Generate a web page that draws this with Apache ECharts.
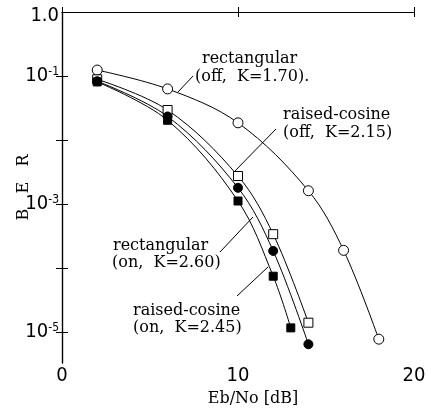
<!DOCTYPE html>
<html>
<head>
<meta charset="utf-8">
<script src="https://cdn.jsdelivr.net/npm/echarts@6/dist/echarts.min.js"></script>
<style>
    html, body { margin: 0; padding: 0; background: #fff; }
    #chart { width: 431px; height: 409px; }
</style>
</head>
<body>
<div id="chart"></div>
<script>
// Eb/No [dB] for each curve
var rectOffX = [2, 6, 10, 14, 16, 18];
var rcOffX = [2, 6, 10, 12, 14];
var rectOnX = [2, 6, 10, 12, 14];
var rcOnX = [2, 6, 10, 12, 13];

// BER
var rectOffBer = [0.124, 0.063, 0.0186, 0.00162, 1.9e-4, 7.8e-6];
var rcOffBer = [0.089, 0.0295, 0.00275, 3.4e-4, 1.41e-5];
var rectOnBer = [0.083, 0.0234, 0.0018, 1.86e-4, 6.5e-6];
var rcOnBer = [0.081, 0.0204, 0.00112, 7.5e-5, 1.17e-5];

// y axis ticks / labels (log10 of BER)
var yTicks = [-1, -2, -3, -4, -5];
var yLabels = [0, -1, -3, -5];
var xTicks = [0, 10, 20];

var serifFont = "'DejaVu Serif', 'Liberation Serif', serif";
var narrowFont = "'Liberation Sans Narrow', 'DejaVu Sans Condensed', 'Liberation Sans', sans-serif";
var noteFont = '16px ' + serifFont;

var toPairs = function (xs, bers) {
    var out = [];
    for (var i = 0; i < xs.length; i++) {
        out.push([xs[i], Math.log10(bers[i])]);
    }
    return out;
};

var makeSeries = function (name, xs, bers, symbol, size, filled) {
    return {
        name: name,
        type: 'line',
        data: toPairs(xs, bers),
        smooth: 0.35,
        symbol: symbol,
        symbolSize: size,
        showAllSymbol: true,
        lineStyle: {color: '#000', width: 1},
        itemStyle: {
            color: filled ? '#000' : '#fff',
            borderColor: '#000',
            borderWidth: 1
        },
        emphasis: {disabled: true},
        z: filled ? 3 : 2
    };
};

var chart = echarts.init(document.getElementById('chart'));

var axisLine = {show: true, lineStyle: {color: '#000', width: 1.2}};

var option = {
    animation: false,
    backgroundColor: '#fff',
    grid: {left: 62, right: 17, top: 12, bottom: 46, outerBoundsMode: 'none'},
    xAxis: [
        {
            type: 'value',
            min: 0,
            max: 20,
            interval: 10,
            position: 'bottom',
            axisLine: axisLine,
            axisTick: {show: true, inside: true, length: 5, customValues: xTicks, lineStyle: {color: '#000'}},
            splitLine: {show: false},
            axisLabel: {
                margin: 3,
                fontFamily: narrowFont,
                fontSize: 20,
                color: '#000'
            },
            name: 'Eb/No [dB]',
            nameLocation: 'middle',
            nameGap: 24,
            nameTextStyle: {fontFamily: serifFont, fontSize: 16, color: '#000', padding: [0, 0, 0, 30]}
        },
        {
            type: 'value',
            min: 0,
            max: 20,
            interval: 10,
            position: 'top',
            axisLine: axisLine,
            axisTick: {show: true, inside: true, length: 5, customValues: xTicks, lineStyle: {color: '#000'}},
            splitLine: {show: false},
            axisLabel: {show: false}
        }
    ],
    yAxis: [
        {
            type: 'value',
            min: -5.48,
            max: 0,
            position: 'left',
            axisLine: axisLine,
            axisTick: {show: true, inside: true, length: 6, customValues: yTicks, lineStyle: {color: '#000'}},
            splitLine: {show: false},
            axisLabel: {
                customValues: yLabels,
                margin: 3,
                color: '#000',
                fontFamily: narrowFont,
                formatter: function (v) {
                    if (v === 0) {
                        return '{t|1.0}';
                    }
                    return '{b|10}{s|' + v + '}';
                },
                rich: {
                    t: {fontFamily: narrowFont, fontSize: 20, color: '#000', lineHeight: 20, padding: [8, 0, 0, 0]},
                    b: {fontFamily: narrowFont, fontSize: 20, color: '#000', lineHeight: 20},
                    s: {fontFamily: narrowFont, fontSize: 12, color: '#000', verticalAlign: 'top', lineHeight: 12}
                }
            },
            name: 'B   E   R',
            nameLocation: 'middle',
            nameRotate: 90,
            nameGap: 30,
            nameMoveOverlap: false,
            nameTextStyle: {fontFamily: serifFont, fontSize: 16, color: '#000'}
        },
        {
            type: 'value',
            min: -5.48,
            max: 0,
            position: 'right',
            axisLine: axisLine,
            axisTick: {show: true, inside: true, length: 6, customValues: yTicks, lineStyle: {color: '#000'}},
            splitLine: {show: false},
            axisLabel: {show: false}
        }
    ],
    series: [
        makeSeries('rectangular (off)', rectOffX, rectOffBer, 'circle', 10, false),
        makeSeries('raised-cosine (off)', rcOffX, rcOffBer, 'rect', 9, false),
        makeSeries('rectangular (on)', rectOnX, rectOnBer, 'circle', 9, true),
        makeSeries('raised-cosine (on)', rcOnX, rcOnBer, 'rect', 8, true)
    ],
    graphic: [
        // annotations
        {type: 'text', left: 202, top: 51, style: {text: 'rectangular', font: noteFont, fill: '#000'}},
        {type: 'text', left: 195, top: 69, style: {text: '(off,  K=1.70).', font: noteFont, fill: '#000'}},
        {type: 'line', shape: {x1: 178, y1: 92, x2: 193, y2: 76}, style: {stroke: '#000', lineWidth: 1}},

        {type: 'text', left: 283, top: 107, style: {text: 'raised-cosine', font: noteFont, fill: '#000'}},
        {type: 'text', left: 283, top: 125, style: {text: '(off,  K=2.15)', font: noteFont, fill: '#000'}},
        {type: 'line', shape: {x1: 234, y1: 172, x2: 276, y2: 129}, style: {stroke: '#000', lineWidth: 1}},

        {type: 'text', left: 113, top: 238, style: {text: 'rectangular', font: noteFont, fill: '#000'}},
        {type: 'text', left: 112, top: 255, style: {text: '(on,  K=2.60)', font: noteFont, fill: '#000'}},
        {type: 'line', shape: {x1: 220, y1: 252, x2: 253, y2: 217}, style: {stroke: '#000', lineWidth: 1}},

        {type: 'text', left: 133, top: 303, style: {text: 'raised-cosine', font: noteFont, fill: '#000'}},
        {type: 'text', left: 133, top: 320, style: {text: '(on,  K=2.45)', font: noteFont, fill: '#000'}},
        {type: 'line', shape: {x1: 237, y1: 296, x2: 268, y2: 267}, style: {stroke: '#000', lineWidth: 1}}
    ]
};

chart.setOption(option);
</script>
</body>
</html>
